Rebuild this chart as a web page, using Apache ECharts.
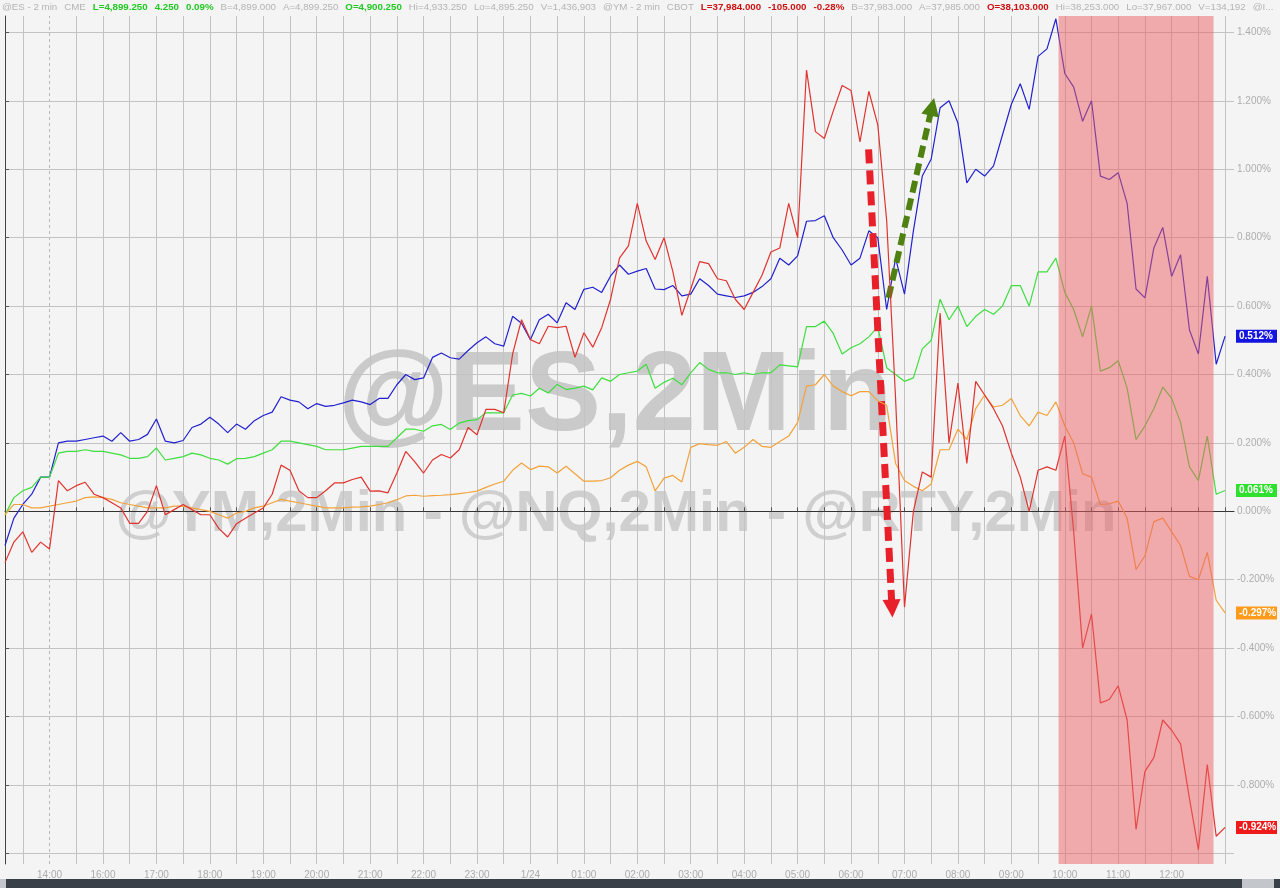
<!DOCTYPE html>
<html><head><meta charset="utf-8">
<script src="https://cdn.jsdelivr.net/npm/echarts@6/dist/echarts.min.js"></script>
<style>html,body{margin:0;padding:0;background:#f4f4f4}#c{width:1280px;height:888px}</style>
</head><body><div id="c"></div>
<script>
// ---- data ----
const categories = [
'13:10','13:20','13:30','13:40','13:50',
'14:00','14:10','14:20','14:30','14:40','14:50',
'16:00','16:10','16:20','16:30','16:40','16:50',
'17:00','17:10','17:20','17:30','17:40','17:50',
'18:00','18:10','18:20','18:30','18:40','18:50',
'19:00','19:10','19:20','19:30','19:40','19:50',
'20:00','20:10','20:20','20:30','20:40','20:50',
'21:00','21:10','21:20','21:30','21:40','21:50',
'22:00','22:10','22:20','22:30','22:40','22:50',
'23:00','23:10','23:20','23:30','23:40','23:50',
'00:00','00:10','00:20','00:30','00:40','00:50',
'01:00','01:10','01:20','01:30','01:40','01:50',
'02:00','02:10','02:20','02:30','02:40','02:50',
'03:00','03:10','03:20','03:30','03:40','03:50',
'04:00','04:10','04:20','04:30','04:40','04:50',
'05:00','05:10','05:20','05:30','05:40','05:50',
'06:00','06:10','06:20','06:30','06:40','06:50',
'07:00','07:10','07:20','07:30','07:40','07:50',
'08:00','08:10','08:20','08:30','08:40','08:50',
'09:00','09:10','09:20','09:30','09:40','09:50',
'10:00','10:10','10:20','10:30','10:40','10:50',
'11:00','11:10','11:20','11:30','11:40','11:50',
'12:00','12:10','12:20','12:30','12:40','12:50',
'13:00','13:10'];

const xTickLabels = ['14:00','16:00','17:00','18:00','19:00','20:00','21:00','22:00','23:00','00:00',
'01:00','02:00','03:00','04:00','05:00','06:00','07:00','08:00','09:00','10:00','11:00','12:00'];
const xLabelText = {'00:00': '1/24'};

const yTickValues = [-1.0,-0.8,-0.6,-0.4,-0.2,0,0.2,0.4,0.6,0.8,1.0,1.2,1.4];
const yLabelValues = [-0.8,-0.6,-0.4,-0.2,0,0.2,0.4,0.6,0.8,1.0,1.2,1.4];

// NQ (blue)
const nqValues = [
-0.10,-0.02,0.02,0.05,0.10,0.10,0.20,0.205,0.205,0.21,
0.215,0.22,0.205,0.23,0.205,0.21,0.225,0.27,0.205,0.20,
0.207,0.245,0.255,0.275,0.255,0.23,0.255,0.24,0.265,0.28,
0.29,0.335,0.325,0.32,0.30,0.315,0.307,0.31,0.317,0.325,
0.32,0.312,0.33,0.33,0.37,0.40,0.385,0.39,0.45,0.463,
0.449,0.445,0.47,0.493,0.51,0.49,0.483,0.57,0.55,0.502,
0.56,0.576,0.551,0.61,0.59,0.649,0.655,0.64,0.688,0.72,
0.693,0.702,0.71,0.65,0.648,0.66,0.63,0.635,0.68,0.66,
0.635,0.63,0.625,0.63,0.64,0.657,0.68,0.74,0.72,0.747,
0.848,0.85,0.864,0.80,0.764,0.72,0.74,0.82,0.80,0.59,
0.74,0.635,0.82,0.98,1.03,1.18,1.20,1.135,0.96,1.00,
0.98,1.01,1.10,1.19,1.25,1.175,1.33,1.352,1.44,1.28,
1.24,1.14,1.20,0.98,0.97,0.99,0.90,0.65,0.624,0.77,
0.83,0.687,0.75,0.53,0.46,0.687,0.43,0.512];
// ES (green)
const esValues = [
-0.01,0.04,0.06,0.07,0.10,0.10,0.17,0.175,0.175,0.18,
0.175,0.175,0.17,0.165,0.155,0.155,0.16,0.185,0.15,0.155,
0.16,0.17,0.165,0.155,0.15,0.138,0.154,0.155,0.16,0.17,
0.18,0.205,0.205,0.20,0.195,0.19,0.18,0.18,0.18,0.185,
0.19,0.19,0.19,0.19,0.215,0.24,0.24,0.234,0.25,0.254,
0.239,0.258,0.265,0.268,0.288,0.288,0.288,0.34,0.345,0.337,
0.36,0.346,0.371,0.356,0.36,0.366,0.355,0.39,0.38,0.40,
0.405,0.41,0.43,0.36,0.377,0.389,0.37,0.405,0.435,0.415,
0.405,0.405,0.40,0.405,0.40,0.405,0.405,0.428,0.425,0.422,
0.54,0.54,0.556,0.52,0.46,0.478,0.49,0.51,0.54,0.42,
0.40,0.38,0.39,0.475,0.50,0.62,0.56,0.60,0.54,0.57,
0.59,0.576,0.60,0.66,0.66,0.60,0.70,0.70,0.74,0.64,
0.59,0.51,0.60,0.41,0.42,0.44,0.36,0.21,0.25,0.30,
0.363,0.33,0.26,0.13,0.09,0.22,0.05,0.061];
// YM (orange)
const ymValues = [
-0.01,0.02,0.02,0.01,0.01,0.015,0.02,0.025,0.03,0.04,
0.042,0.04,0.035,0.025,0.02,0.015,0.01,0.01,0.01,0.015,
0.015,0.01,0.005,0.0,-0.01,-0.02,-0.005,0.0,0.01,0.015,
0.025,0.035,0.03,0.025,0.02,0.015,0.01,0.01,0.01,0.012,
0.013,0.015,0.02,0.025,0.034,0.045,0.047,0.044,0.046,0.047,
0.049,0.052,0.055,0.059,0.07,0.08,0.088,0.12,0.141,0.122,
0.132,0.13,0.112,0.132,0.11,0.088,0.088,0.09,0.098,0.12,
0.135,0.146,0.13,0.06,0.097,0.105,0.086,0.187,0.198,0.195,
0.193,0.204,0.17,0.187,0.21,0.19,0.187,0.204,0.22,0.26,
0.366,0.37,0.40,0.366,0.35,0.338,0.35,0.35,0.323,0.31,
0.14,0.09,0.073,0.06,0.08,0.18,0.18,0.24,0.21,0.30,
0.34,0.305,0.31,0.33,0.28,0.25,0.29,0.28,0.32,0.25,
0.20,0.11,0.10,0.02,0.022,0.03,-0.02,-0.17,-0.13,-0.03,
-0.02,-0.06,-0.10,-0.19,-0.20,-0.12,-0.26,-0.297];
// RTY (red)
const rtyValues = [
-0.15,-0.09,-0.06,-0.12,-0.09,-0.11,0.09,0.06,0.075,0.085,
0.05,0.04,0.025,0.01,-0.035,-0.035,0.0,0.075,-0.01,0.005,
0.02,0.005,-0.01,-0.01,-0.05,-0.075,-0.036,-0.02,-0.005,0.01,
0.05,0.135,0.12,0.06,0.04,0.04,0.06,0.083,0.083,0.093,
0.10,0.059,0.06,0.054,0.112,0.175,0.145,0.112,0.15,0.166,
0.156,0.18,0.245,0.224,0.298,0.298,0.288,0.46,0.56,0.502,
0.49,0.541,0.537,0.541,0.45,0.522,0.48,0.537,0.62,0.74,
0.776,0.90,0.79,0.736,0.80,0.70,0.573,0.65,0.73,0.724,
0.68,0.674,0.62,0.59,0.64,0.69,0.758,0.77,0.90,0.80,
1.29,1.11,1.09,1.17,1.245,1.23,1.08,1.228,1.13,0.85,
0.33,-0.28,0.0,0.115,0.10,0.58,0.20,0.375,0.14,0.38,
0.34,0.30,0.25,0.17,0.10,0.0,0.12,0.13,0.12,0.22,
-0.06,-0.40,-0.30,-0.56,-0.55,-0.51,-0.61,-0.93,-0.76,-0.72,
-0.61,-0.64,-0.68,-0.84,-0.99,-0.74,-0.95,-0.924];

const seriesNames = ['NQ', 'ES', 'YM', 'RTY'];
const shadeRange = [118.3, 135.7];          // category-index span of the shaded zone
const downArrow = [[96.97, 1.058], [99.6, -0.284]];
const upArrow = [[99.2, 0.624], [104.1, 1.183]];
const sessionLine = 5;                       // index of the dashed 14:00 session line

const headerTexts = ['@ES - 2 min','CME','L=4,899.250','4.250','0.09%','B=4,899.000','A=4,899.250',
'O=4,900.250','Hi=4,933.250','Lo=4,895.250','V=1,436,903','@YM - 2 min','CBOT','L=37,984.000',
'-105.000','-0.28%','B=37,983.000','A=37,985.000','O=38,103.000','Hi=38,253.000','Lo=37,967.000',
'V=134,192','@I...'];
const headerKinds = ['g','g','up','up','up','g','g','up','g','g','g','g','g','dn','dn','dn','g','g','dn','g','g','g','g'];

// ---- layout / style ----
const FONT_FAMILY = '"Liberation Sans", Arial, sans-serif';
const kindColor = {g: '#b4b4b4', up: '#22c822', dn: '#cc1111'};
const kindWeight = {g: 'normal', up: 'bold', dn: 'bold'};
const HEADER_LEFT = 2, HEADER_RIGHT = 1274, HEADER_GAP = 7;
const colors = ['#2121cf', '#3ede3e', '#f2a23a', '#e0332e'];
const labelBg = ['#1414e0', '#2fe02f', '#ff9a1a', '#ee1a1a'];
const Y_MIN = -1.031, Y_MAX = 1.448;

// header layout: fit the segments between HEADER_LEFT and HEADER_RIGHT
const ctx = document.createElement('canvas').getContext('2d');
function measure(t, kind, size) {
  ctx.font = kindWeight[kind] + ' ' + size + 'px ' + FONT_FAMILY;
  return ctx.measureText(t).width;
}
let natural = 0;
headerTexts.forEach((t, i) => { natural += measure(t, headerKinds[i], 10); });
const avail = HEADER_RIGHT - HEADER_LEFT - HEADER_GAP * (headerTexts.length - 1);
const headerSize = Math.min(10.5, 10 * avail / natural);

const chart = echarts.init(document.getElementById('c'), null, {renderer: 'canvas'});

const graphics = [
  {type: 'text', z: -10, silent: true, style: {text: '@ES,2Min', x: 615, y: 399, align: 'center', verticalAlign: 'middle',
    fill: '#cacaca', font: 'bold 114px ' + FONT_FAMILY}},
  {type: 'text', z: -10, silent: true, style: {text: '@YM,2Min - @NQ,2Min - @RTY,2Min', x: 616, y: 515, align: 'center', verticalAlign: 'middle',
    fill: '#cfcfcf', font: 'bold 58px ' + FONT_FAMILY}},
  {type: 'rect', silent: true, shape: {x: 0, y: 879, width: 1280, height: 9}, style: {fill: '#3a4048'}},
  {type: 'rect', silent: true, shape: {x: 0, y: 879, width: 6, height: 9}, style: {fill: '#c3c7cc'}},
  {type: 'rect', silent: true, shape: {x: 1242, y: 879, width: 32, height: 9}, style: {fill: '#c3c7cc'}}
];
let hx = HEADER_LEFT;
headerTexts.forEach((t, i) => {
  const k = headerKinds[i];
  graphics.push({type: 'text', silent: true, style: {text: t, x: hx, y: 7, verticalAlign: 'middle',
    fill: kindColor[k], font: kindWeight[k] + ' ' + headerSize.toFixed(2) + 'px ' + FONT_FAMILY}});
  hx += measure(t, k, headerSize) + HEADER_GAP;
});

const valueSets = [nqValues, esValues, ymValues, rtyValues];
const lineSeries = valueSets.map((vals, k) => {
  const last = vals[vals.length - 1];
  return {
    name: seriesNames[k],
    type: 'line',
    data: vals,
    showSymbol: false,
    symbol: 'none',
    z: 3 + k,
    lineStyle: {color: colors[k], width: 1.2},
    markLine: {
      silent: true, symbol: 'none', animation: false, precision: 3,
      data: [{
        yAxis: last,
        lineStyle: {color: 'rgba(0,0,0,0)', width: 0},
        label: {show: true, position: 'end', distance: 2,
          formatter: () => last.toFixed(3) + '%',
          color: '#ffffff', fontWeight: 'bold', fontSize: 10, fontFamily: FONT_FAMILY,
          backgroundColor: labelBg[k], padding: [2, 4, 1, 3], width: 34}
      }]
    }
  };
});

const option = {
  backgroundColor: '#f4f4f4',
  animation: false,
  graphic: graphics,
  grid: {left: 5, right: 46, top: 16, bottom: 24, containLabel: false},
  xAxis: [{
    type: 'category', data: categories, boundaryGap: false,
    axisLine: {show: true, lineStyle: {color: '#333', width: 1}},
    axisTick: {show: true, inside: true, length: 4, lineStyle: {color: '#555'},
      interval: (i, v) => /:(00|30)$/.test(v)},
    axisLabel: {color: '#ababab', fontSize: 10, margin: 6, fontFamily: FONT_FAMILY,
      interval: (i, v) => xTickLabels.indexOf(v) >= 0,
      formatter: v => xLabelText[v] || v},
    splitLine: {show: true, lineStyle: {color: '#c3c3c3', width: 1},
      interval: (i, v) => /:(00|30)$/.test(v) && i !== sessionLine}
  }, {
    type: 'value', min: 0, max: categories.length - 1, show: false
  }],
  yAxis: {
    type: 'value', position: 'right', min: Y_MIN, max: Y_MAX, splitNumber: 12,
    axisLine: {show: true, lineStyle: {color: '#444'}},
    axisTick: {show: true, length: 4, customValues: yTickValues, lineStyle: {color: '#555'}},
    axisLabel: {customValues: yLabelValues, color: '#adadad', fontSize: 10, margin: 3,
      fontFamily: FONT_FAMILY,
      formatter: v => v.toFixed(3) + '%'},
    splitLine: {show: true, lineStyle: {color: '#c3c3c3', width: 1}}
  },
  series: [
    ...lineSeries,
    {
      type: 'custom', xAxisIndex: 1, z: 20, silent: true,
      data: [[shadeRange[0], shadeRange[1], 0]],
      encode: {x: [0, 1], y: 2},
      renderItem: (params, api) => {
        const x0 = api.coord([api.value(0), 0])[0];
        const x1 = api.coord([api.value(1), 0])[0];
        const cs = params.coordSys;
        return {type: 'rect', shape: {x: x0, y: cs.y, width: x1 - x0, height: cs.height},
          style: {fill: 'rgba(236,96,100,0.5)'}};
      }
    },
    {
      type: 'line', xAxisIndex: 1, data: [], z: 30, silent: true,
      markLine: {
        silent: true, animation: false, symbol: ['none', 'triangle'], symbolSize: 18,
        label: {show: false},
        data: [
          [{coord: downArrow[0]}, {coord: downArrow[1], lineStyle: {color: '#e8202a', width: 7, type: [14, 7]}, itemStyle: {color: '#e8202a'}}],
          [{coord: upArrow[0]}, {coord: upArrow[1], lineStyle: {color: '#4e8012', width: 6, type: [12, 6]}, itemStyle: {color: '#4e8012'}}],
          [{coord: [sessionLine, Y_MIN], symbol: 'none'}, {coord: [sessionLine, Y_MAX], symbol: 'none', lineStyle: {color: '#b8b8b8', width: 1, type: [3, 3]}}]
        ]
      }
    }
  ]
};
chart.setOption(option);
</script>
</body></html>
